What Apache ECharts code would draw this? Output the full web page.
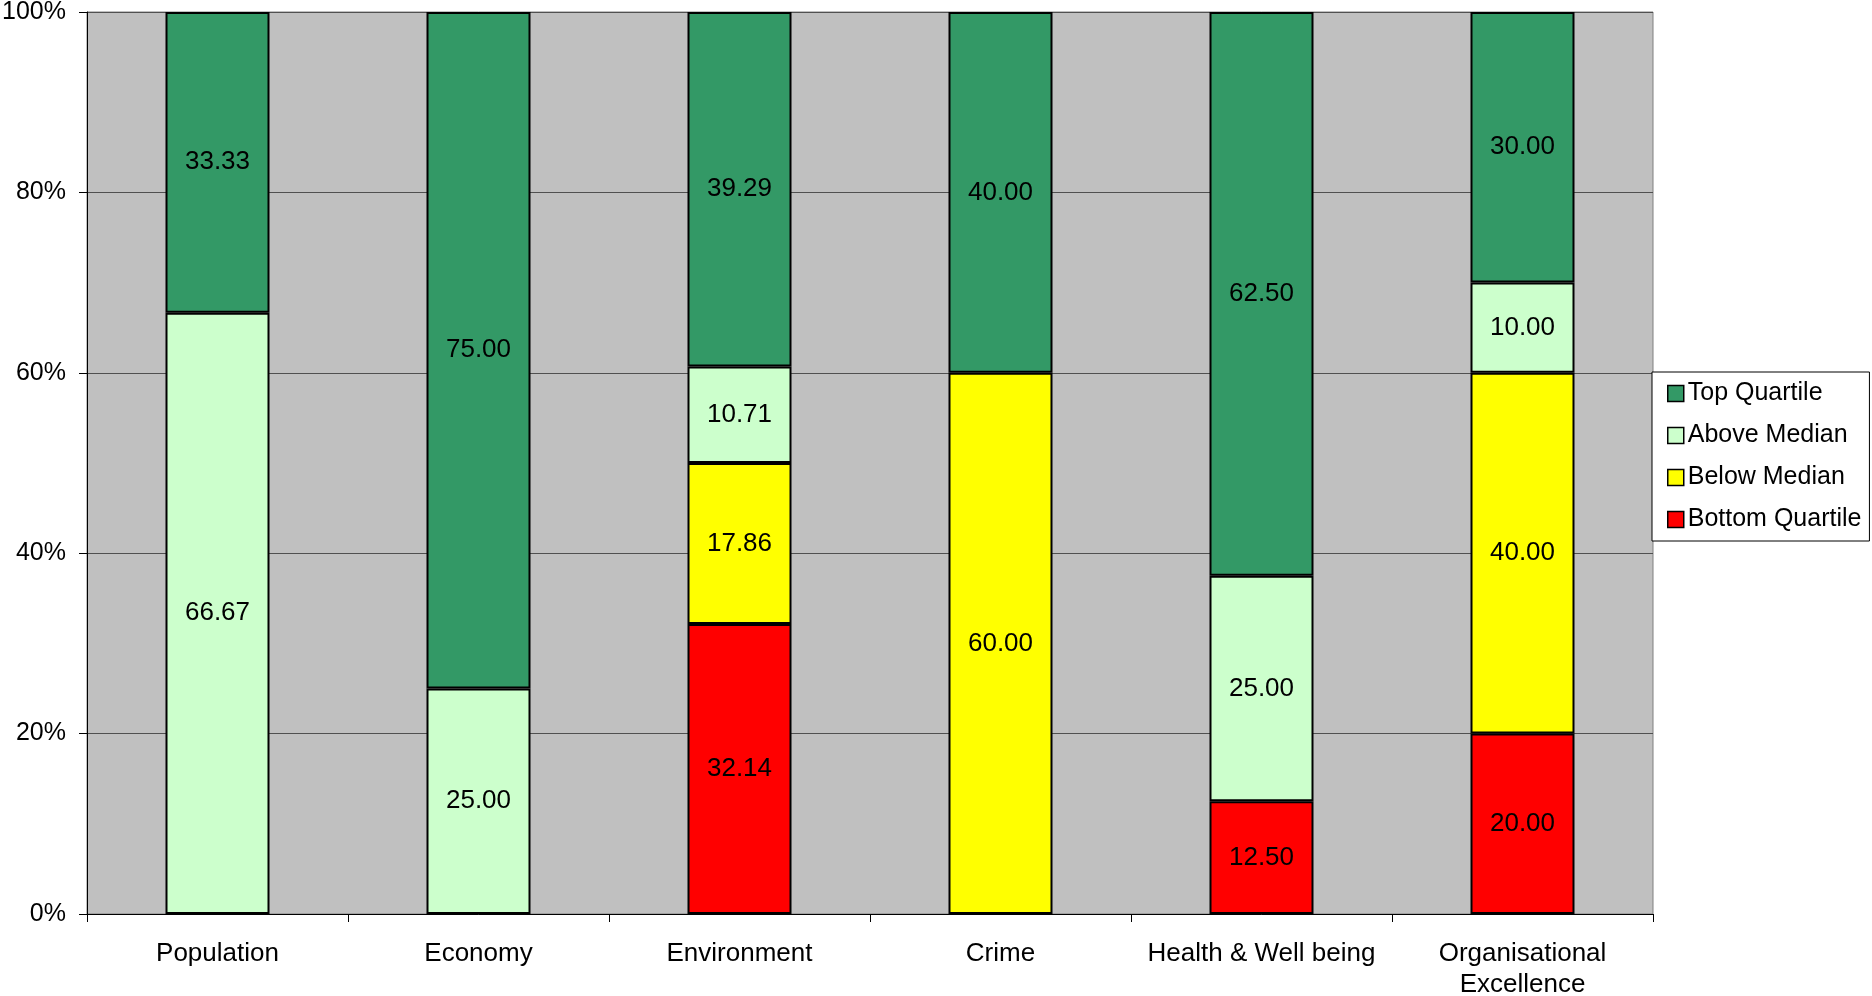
<!DOCTYPE html>
<html>
<head>
<meta charset="utf-8">
<script src="https://cdn.jsdelivr.net/npm/echarts@6/dist/echarts.min.js"></script>
<style>
html, body { margin: 0; padding: 0; background: #fff; }
#chart { width: 1872px; height: 996px; }
</style>
</head>
<body>
<div id="chart"></div>
<script>
var categories = ['Population', 'Economy', 'Environment', 'Crime', 'Health & Well being', 'Organisational\nExcellence'];
// null = no segment in that bar
var bottomQuartile = [null, null, 32.14, null, 12.50, 20.00];
var belowMedian = [null, null, 17.86, 60.00, null, 40.00];
var aboveMedian = [66.67, 25.00, 10.71, null, 25.00, 10.00];
var topQuartile = [33.33, 75.00, 39.29, 40.00, 62.50, 30.00];
var yTicks = [0, 20, 40, 60, 80, 100];

var myChart = echarts.init(document.getElementById('chart'));

function mkSeries(name, data, color) {
    return {
        name: name,
        type: 'bar',
        stack: 'all',
        data: data,
        barWidth: 104,
        itemStyle: { color: color, borderColor: '#000', borderWidth: 2 },
        label: {
            show: true,
            position: 'inside',
            color: '#000',
            fontSize: 26,
            fontFamily: 'Liberation Sans',
            formatter: function (p) { return p.value == null ? '' : Number(p.value).toFixed(2); }
        }
    };
}

var option = {
    animation: false,
    textStyle: { fontFamily: 'Liberation Sans' },
    grid: {
        left: 87, top: 12, width: 1566, height: 902,
        outerBoundsMode: 'none',
        containLabel: false,
        show: true, backgroundColor: '#C0C0C0', borderColor: '#808080', borderWidth: 1
    },
    legend: {
        orient: 'vertical',
        left: 1652, top: 372,
        data: ['Top Quartile', 'Above Median', 'Below Median', 'Bottom Quartile'],
        backgroundColor: '#fff',
        borderColor: '#000',
        borderWidth: 1,
        padding: [9, 8, 9, 15],
        itemWidth: 16, itemHeight: 16,
        itemGap: 17,
        icon: 'rect',
        itemStyle: { borderWidth: 1.5, borderColor: '#000' },
        textStyle: { fontSize: 25, color: '#000', fontFamily: 'Liberation Sans', padding: [0, 0, 0, -1] }
    },
    xAxis: {
        type: 'category',
        data: categories,
        axisLine: { lineStyle: { color: '#000', width: 1 } },
        axisTick: { show: true, length: 8, lineStyle: { color: '#000' } },
        axisLabel: { color: '#000', fontSize: 26, margin: 24, lineHeight: 31, interval: 0 }
    },
    yAxis: {
        type: 'value',
        min: yTicks[0], max: yTicks[yTicks.length - 1], interval: 20,
        axisLine: { show: true, lineStyle: { color: '#000', width: 1 } },
        axisTick: { show: true, length: 8, lineStyle: { color: '#000' } },
        axisLabel: { color: '#000', fontSize: 25, margin: 21, formatter: '{value}%' },
        splitLine: { show: true, lineStyle: { color: '#505050', width: 1 } }
    },
    series: [
        mkSeries('Bottom Quartile', bottomQuartile, '#FF0000'),
        mkSeries('Below Median', belowMedian, '#FFFF00'),
        mkSeries('Above Median', aboveMedian, '#CCFFCC'),
        mkSeries('Top Quartile', topQuartile, '#339966')
    ]
};
myChart.setOption(option);
</script>
</body>
</html>
